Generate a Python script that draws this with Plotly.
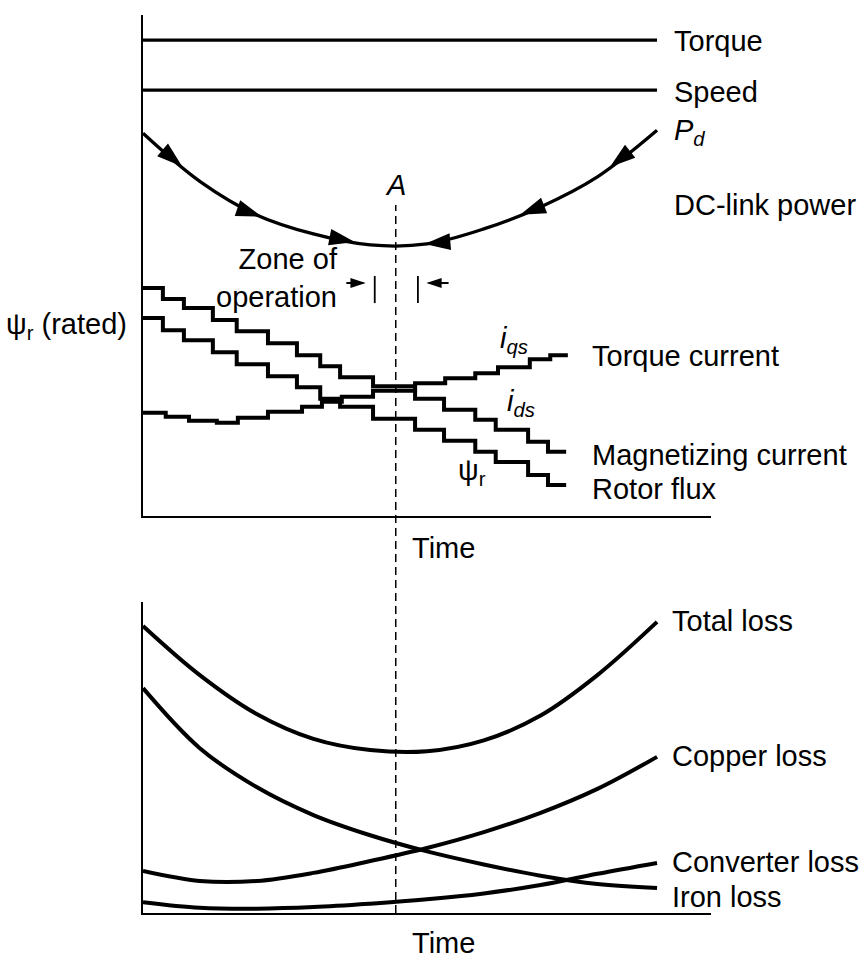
import math
import numpy as np
import plotly.graph_objects as go

# ---------------- data ----------------
# time axis in arbitrary units (0..100); all curves stop at T_END
T_END = 90.5
A_T = 44.5                      # operating point A
ZONE = [40.8, 48.4]             # zone of operation

torque_level = 95.0
speed_level = 85.0

pd_t = [0, 10, 20, 30, 40, 50, 60, 70, 80, 90.5]
pd_power = [76.4, 66.8, 60.1, 56.3, 54.1, 54.3, 57.3, 61.7, 67.7, 77.0]
pd_arrows_fwd = [6.9, 20.9, 37.3]
pd_arrows_back = [82.2, 66.4, 49.6]

# stepwise flux programming
step_t = [0, 3.5, 7.2, 12.3, 16.5, 22.0, 27.1, 31.2, 34.7, 40.5, 47.9,
          53.0, 58.5, 62.1, 67.8, 71.3, 74.5]
ids = [45.5, 43.3, 41.5, 39.1, 36.9, 34.5, 32.1, 29.9, 27.7, 25.9, 23.4,
       21.2, 19.2, 17.2, 14.8, 12.8]
psi_r = [39.5, 37.1, 35.1, 32.7, 30.3, 27.9, 25.7, 23.4, 21.8, 19.4, 17.2,
         15.0, 12.8, 10.8, 8.2, 6.2]
iqs_t = [0, 4.0, 8.1, 13.0, 16.7, 22.0, 28.0, 31.5, 35.0, 40.5, 47.9,
         53.2, 58.5, 62.5, 68.1, 71.7, 74.8]
iqs = [20.6, 19.8, 19.0, 18.6, 19.6, 20.8, 21.8, 22.8, 23.8, 25.0, 26.5,
       27.5, 28.5, 29.7, 31.3, 32.1]

# losses
loss_t = [0, 10, 20, 30, 40, 50, 60, 70, 80, 90.5]
total_loss = [92.3, 76.5, 64.0, 56.0, 52.4, 52.0, 55.5, 63.5, 76.5, 93.6]
iron_loss = [72.3, 53.0, 40.5, 31.5, 25.0, 19.8, 15.6, 12.0, 9.3, 8.0]
copper_loss = [13.5, 10.3, 10.3, 12.9, 16.7, 20.9, 26.0, 32.2, 39.9, 50.2]
converter_loss = [3.5, 1.7, 1.4, 1.9, 3.0, 4.4, 6.3, 9.0, 12.6, 16.1]

# ---------------- figure ----------------
FONT = "Liberation Sans, Arial, Helvetica, sans-serif"
FS = 29
BLACK = "black"

W, H = 864, 961
X_DOM = [143 / W, 711 / W]
TOP_DOM = [1 - 516 / H, 1 - 15 / H]
BOT_DOM = [1 - 913 / H, 1 - 602 / H]
# pixels per data unit (both axes span 0..100)
PX_X = (X_DOM[1] - X_DOM[0]) * W / 100
PX_Y_TOP = (TOP_DOM[1] - TOP_DOM[0]) * H / 100

fig = go.Figure()


def line(x, y, axes, width=3.5, shape="linear"):
    fig.add_trace(go.Scatter(
        x=x, y=y, mode="lines", xaxis=axes[0], yaxis=axes[1],
        line=dict(color=BLACK, width=width, shape=shape, smoothing=1.0),
        hoverinfo="skip", showlegend=False))


top = ("x", "y")
bot = ("x2", "y2")

line([0, T_END], [torque_level, torque_level], top, 3.3)
line([0, T_END], [speed_level, speed_level], top, 3.3)
line(pd_t, pd_power, top, 3.3, "spline")

line(step_t, ids + [ids[-1]], top, 4, "hv")
line(step_t, psi_r + [psi_r[-1]], top, 4, "hv")
line(iqs_t, iqs + [iqs[-1]], top, 4, "hv")

line(loss_t, total_loss, bot, 4, "spline")
line(loss_t, iron_loss, bot, 4, "spline")
line(loss_t, copper_loss, bot, 4, "spline")
line(loss_t, converter_loss, bot, 4, "spline")


# direction arrowheads along the DC-link power curve
def pd_head(t, backward):
    y = float(np.interp(t, pd_t, pd_power))
    slope = (np.interp(t + 1, pd_t, pd_power) - np.interp(t - 1, pd_t, pd_power)) / 2
    dx = PX_X * (-1 if backward else 1)
    dy_screen = -PX_Y_TOP * slope * (-1 if backward else 1)
    ang = math.degrees(math.atan2(dx, -dy_screen))
    return y, ang


heads_t, heads_y, heads_ang = [], [], []
for t in pd_arrows_fwd:
    y, a = pd_head(t, False)
    heads_t.append(t); heads_y.append(y); heads_ang.append(a)
for t in pd_arrows_back:
    y, a = pd_head(t, True)
    heads_t.append(t); heads_y.append(y); heads_ang.append(a)

fig.add_trace(go.Scatter(
    x=heads_t, y=heads_y, mode="markers", xaxis="x", yaxis="y",
    marker=dict(symbol="arrow", size=27, angle=heads_ang, color=BLACK,
                line=dict(width=0)),
    hoverinfo="skip", showlegend=False))

# zone of operation: shafts, heads and end bars
zone_y = 46.5
fig.add_trace(go.Scatter(
    x=[ZONE[0] - 1.6, ZONE[1] + 1.5], y=[zone_y, zone_y], mode="markers",
    xaxis="x", yaxis="y",
    marker=dict(symbol="arrow", size=16, angle=[90, 270], color=BLACK,
                line=dict(width=0)),
    hoverinfo="skip", showlegend=False))

shapes = [
    # operating point A, through both panels
    dict(type="line", xref="x", yref="paper", x0=A_T, x1=A_T,
         y0=1 - 913 / H, y1=1 - 205 / H,
         line=dict(color=BLACK, width=1.5, dash="8px,5px")),
    dict(type="line", xref="x", yref="y", x0=ZONE[0], x1=ZONE[0],
         y0=42.5, y1=47.9, line=dict(color=BLACK, width=1.8)),
    dict(type="line", xref="x", yref="y", x0=ZONE[1], x1=ZONE[1],
         y0=42.5, y1=47.9, line=dict(color=BLACK, width=1.8)),
    dict(type="line", xref="x", yref="y", x0=ZONE[0] - 5.0, x1=ZONE[0] - 2.0,
         y0=zone_y, y1=zone_y, line=dict(color=BLACK, width=2)),
    dict(type="line", xref="x", yref="y", x0=ZONE[1] + 1.9, x1=ZONE[1] + 5.4,
         y0=zone_y, y1=zone_y, line=dict(color=BLACK, width=2)),
]

annotations = []


def label(text, x, y, xref="x", yref="y", xanchor="left", yanchor="middle",
          xshift=0, yshift=0, align="left"):
    annotations.append(dict(
        text=text, x=x, y=y, xref=xref, yref=yref, showarrow=False,
        xanchor=xanchor, yanchor=yanchor, xshift=xshift, yshift=yshift,
        align=align, font=dict(family=FONT, size=FS, color=BLACK)))


label("Torque", T_END + 2.6, torque_level, yshift=-1)
label("Speed", T_END + 2.6, speed_level, yshift=-2)
label("<i>P</i><sub><i>d</i></sub>", T_END + 2.6, pd_power[-1], yshift=-2)
label("DC-link power", T_END + 2.6, 62.1)
label("<i>A</i>", A_T, 66.1, xanchor="center")
label("Zone of<br>operation", 34.7, 47.5, xanchor="right", align="right")

label("<i>i</i><sub><i>qs</i></sub>", 65.3, 35.1, xanchor="center")
label("<i>i</i><sub><i>ds</i></sub>", 66.5, 22.6, xanchor="center")
label("ψ<sub>r</sub>", 57.9, 8.8, xanchor="center")
label("Torque current", 78.7, iqs[-1], yshift=-1)
label("Magnetizing current", 78.7, ids[-1], yshift=-3)
label("Rotor flux", 78.7, psi_r[-1], yshift=-4)
label("ψ<sub>r</sub> (rated)", 0, psi_r[0], xanchor="right", xshift=-14, yshift=-8)

label("Time", 47.0, 1 - 548 / H, yref="paper")
label("Time", 47.0, 0, yref="paper", yanchor="bottom")

label("Total loss", T_END + 2.3, total_loss[-1], xref="x2", yref="y2", yshift=1)
label("Copper loss", T_END + 2.3, copper_loss[-1], xref="x2", yref="y2", yshift=1)
label("Converter loss", T_END + 2.3, converter_loss[-1], xref="x2", yref="y2", yshift=1)
label("Iron loss", T_END + 2.3, iron_loss[-1], xref="x2", yref="y2", yshift=-9)

axis_common = dict(showgrid=False, zeroline=False, showticklabels=False,
                   ticks="", showline=True, linecolor=BLACK, linewidth=1.6,
                   fixedrange=True)

fig.update_layout(
    width=W, height=H,
    margin=dict(l=0, r=0, t=0, b=0),
    paper_bgcolor="white", plot_bgcolor="white",
    xaxis=dict(domain=X_DOM, range=[0, 100], anchor="y", **axis_common),
    yaxis=dict(domain=TOP_DOM, range=[0, 100], anchor="x", **axis_common),
    xaxis2=dict(domain=X_DOM, range=[0, 100], anchor="y2", **axis_common),
    yaxis2=dict(domain=BOT_DOM, range=[0, 100], anchor="x2", **axis_common),
    annotations=annotations,
    shapes=shapes,
    showlegend=False,
)

fig.write_html("out.html")
